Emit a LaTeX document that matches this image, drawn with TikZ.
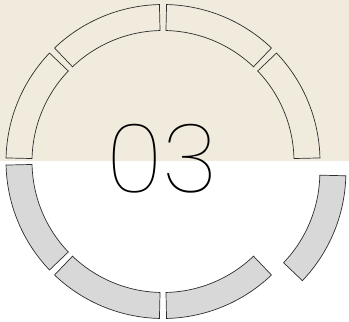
\documentclass[tikz,border=0pt]{standalone}
\usepackage{fontspec}
\newfontfamily\thinfont{Poppins Thin}
\usetikzlibrary{calc}

\definecolor{paper}{RGB}{240,235,220}
\definecolor{segfill}{RGB}{216,216,216}
\definecolor{segline}{RGB}{45,45,45}

\tikzset{
  seg/.style={draw=segline, line width=0.7pt},
  upper/.style={seg, fill=paper},
  lower/.style={seg, fill=segfill}
}

\begin{document}
\begin{tikzpicture}[x=1pt, y=1pt]
  % Frame and beige upper band
  \useasboundingbox (0,0) rectangle (349,322);
  \fill[paper] (0,161) rectangle (349,322);

  % Ring centre
  \coordinate (c) at (163,160.5);

  % Upper segments (open)
  \foreach \a in {0,45,90,135} {
    \draw[upper] ($(c)+(\a+1.3:157pt)$) arc[start angle=\a+1.3, end angle=\a+43.7, radius=157pt]
      -- ($(c)+(\a+43.7:131pt)$) arc[start angle=\a+43.7, end angle=\a+1.3, radius=131pt] -- cycle;
  }

  % Lower segments (grey), the last one pulled out
  \foreach \a/\push in {180/0, 225/0, 270/0, 315/28} {
    \coordinate (cc) at ($(c)+(\a+22.5:\push pt)$);
    \draw[lower] ($(cc)+(\a+1.3:157pt)$) arc[start angle=\a+1.3, end angle=\a+43.7, radius=157pt]
      -- ($(cc)+(\a+43.7:131pt)$) arc[start angle=\a+43.7, end angle=\a+1.3, radius=131pt] -- cycle;
  }

  % Number
  \node[anchor=base, inner sep=0pt, text=black] (num) at (162,129) {\thinfont\fontsize{96}{96}\selectfont 03};
\end{tikzpicture}
\end{document}
